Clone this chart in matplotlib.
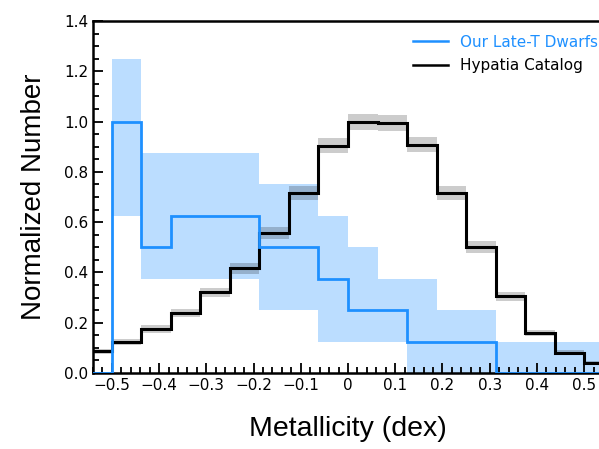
import numpy as np
import matplotlib
matplotlib.use("Agg")
import matplotlib.pyplot as plt
from matplotlib.ticker import MultipleLocator, FixedLocator
from matplotlib.lines import Line2D

###########################################
# DATA
###########################################
# bin edges (dex), width 0.0625
bin_edges = [-0.5625, -0.5, -0.4375, -0.375, -0.3125, -0.25, -0.1875, -0.125, -0.0625,
             0.0, 0.0625, 0.125, 0.1875, 0.25, 0.3125, 0.375, 0.4375, 0.5, 0.5625]

# our late-T dwarfs
dwarf_hist = [0.0, 1.0, 0.5, 0.625, 0.625, 0.625, 0.5, 0.5, 0.375,
              0.25, 0.25, 0.125, 0.125, 0.125, 0.0, 0.0, 0.0, 0.0]
dwarf_low = [0.0, 0.625, 0.375, 0.375, 0.375, 0.375, 0.25, 0.25, 0.125,
             0.125, 0.125, 0.0, 0.0, 0.0, 0.0, 0.0, 0.0, 0.0]
dwarf_high = [0.0, 1.25, 0.875, 0.875, 0.875, 0.875, 0.75, 0.75, 0.625,
              0.5, 0.375, 0.375, 0.25, 0.25, 0.125, 0.125, 0.125, 0.125]

# Hypatia catalog
hyp_hist = [0.087, 0.122, 0.175, 0.24, 0.322, 0.416, 0.558, 0.717, 0.904,
            1.0, 0.993, 0.908, 0.715, 0.502, 0.306, 0.16, 0.081, 0.041]
hyp_err = [0.010, 0.012, 0.014, 0.016, 0.018, 0.021, 0.024, 0.027, 0.030,
           0.032, 0.032, 0.030, 0.027, 0.023, 0.018, 0.013, 0.010, 0.007]

xtick_vals = [-0.5, -0.4, -0.3, -0.2, -0.1, 0.0, 0.1, 0.2, 0.3, 0.4, 0.5]
xtick_labels = ["\u22120.5", "\u22120.4", "\u22120.3", "\u22120.2", "\u22120.1", "0",
                "0.1", "0.2", "0.3", "0.4", "0.5"]

blue = "#1E90FF"

###########################################
# PLOT
###########################################
fig = plt.figure(figsize=(5.99, 4.49), dpi=100)
ax = fig.add_axes([93 / 599, 76 / 449, 510 / 599, 352 / 449])

edges = np.array(bin_edges)
# step arrays for fill_between (repeat last value)
lo = np.append(dwarf_low, dwarf_low[-1])
hi = np.append(dwarf_high, dwarf_high[-1])
ax.fill_between(edges, lo, hi, step="post", color=blue, alpha=0.3, lw=0, zorder=1)

h = np.array(hyp_hist)
e = np.array(hyp_err)
ax.fill_between(edges, np.append(h - e, (h - e)[-1]), np.append(h + e, (h + e)[-1]),
                step="post", color="black", alpha=0.2, lw=0, zorder=2)

ax.stairs(hyp_hist, edges, color="black", lw=2.2, zorder=3)
ax.stairs(dwarf_hist, edges, color=blue, lw=2.0, zorder=4)

ax.set_xlim(-0.54, 0.54)
ax.set_ylim(0, 1.4)

ax.xaxis.set_major_locator(FixedLocator(xtick_vals))
ax.set_xticklabels(xtick_labels)
ax.xaxis.set_minor_locator(MultipleLocator(0.02))
ax.yaxis.set_major_locator(MultipleLocator(0.2))
ax.yaxis.set_minor_locator(MultipleLocator(0.05))
ax.yaxis.set_major_formatter(matplotlib.ticker.FormatStrFormatter("%.1f"))

ax.tick_params(which="both", direction="in", top=False, right=False, labelsize=11, width=1.3)
ax.tick_params(which="major", length=7)
ax.tick_params(which="minor", length=4)
for s in ax.spines.values():
    s.set_linewidth(1.8)

ax.set_xlabel("Metallicity (dex)", fontsize=20.5, family="Liberation Sans", labelpad=17)
ax.set_ylabel("Normalized Number", fontsize=20, family="Liberation Sans", labelpad=12)

handles = [Line2D([], [], color=blue, lw=1.8), Line2D([], [], color="black", lw=1.8)]
leg = ax.legend(handles, ["Our Late-T Dwarfs", "Hypatia Catalog"], frameon=False,
                fontsize=11, loc="upper right", bbox_to_anchor=(1.018, 1.0),
                handlelength=2.3, labelspacing=0.55)
leg.get_texts()[0].set_color(blue)

fig.savefig("out.png", dpi=100)
